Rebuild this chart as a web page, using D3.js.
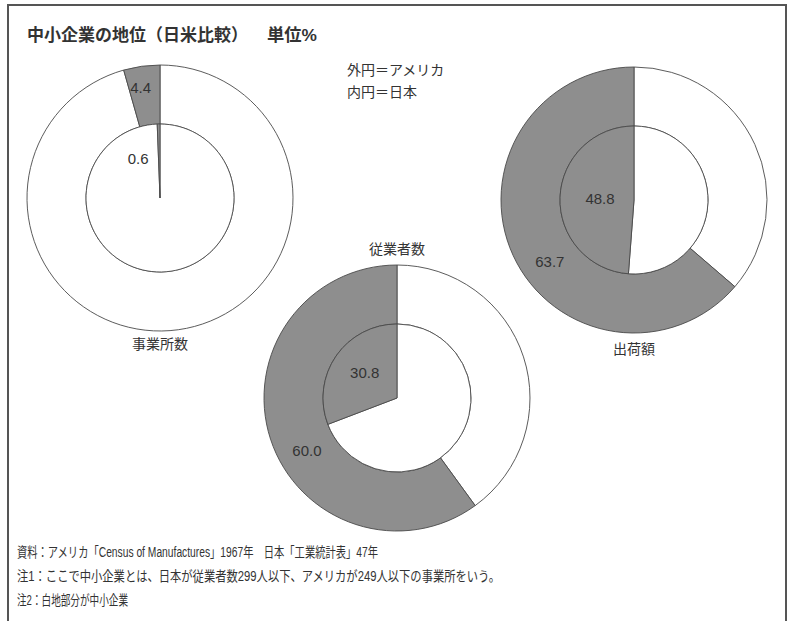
<!DOCTYPE html>
<html>
<head>
<meta charset="utf-8">
<script src="https://cdn.jsdelivr.net/npm/d3@7"></script>
<style>
  html, body { margin: 0; padding: 0; background: #ffffff; }
  svg { display: block; }
  text { font-family: "Liberation Sans", "Noto Sans CJK JP", sans-serif; fill: #333; }
</style>
</head>
<body>
<svg id="chart" width="795" height="621"></svg>
<script>
// Share of large enterprises (grey) vs. small/medium enterprises (white), %
const categories = ["事業所数", "従業者数", "出荷額"];
const usLarge = [4.4, 60.0, 63.7];     // outer ring: USA
const japanLarge = [0.6, 30.8, 48.8];  // inner disc: Japan

const titleText = "中小企業の地位（日米比較）";
const unitText = "単位%";
const legendLines = ["外円＝アメリカ", "内円＝日本"];
const notes = [
  "資料：アメリカ「Census of Manufactures」1967年　日本「工業統計表」47年",
  "注1：ここで中小企業とは、日本が従業者数299人以下、アメリカが249人以下の事業所をいう。",
  "注2：白地部分が中小企業"
];

// Layout
const W = 795, H = 621;
const svg = d3.select("#chart");
const rOuter = 133, rInner = 74;
const centers = [[160, 198], [397, 398], [634, 200]];
// category label: offset above/below each donut
const catLabelDy = [146, -149, 149];
// value label placement in polar form: angle (deg, counter-clockwise from top), radius
const usLabelPolar = [[10, 112], [120, 104], [126, 104]];
const jpLabelPolar = [[29, 45], [52, 41], [88, 34]];

const GREY = "#8e8e8e", EDGE = "#4a4a4a";

// frame
svg.append("path")
  .attr("d", `M8,${H + 2} V5 H786 V${H + 2}`)
  .attr("fill", "none").attr("stroke", "#555").attr("stroke-width", 2);

// title
svg.append("text").attr("x", 27).attr("y", 41)
  .attr("font-size", 17).attr("font-weight", "bold")
  .attr("textLength", 221).attr("lengthAdjust", "spacingAndGlyphs")
  .text(titleText);
svg.append("text").attr("x", 267).attr("y", 41)
  .attr("font-size", 17).attr("font-weight", "bold")
  .attr("textLength", 50).attr("lengthAdjust", "spacingAndGlyphs")
  .text(unitText);

// legend
svg.selectAll("text.legend").data(legendLines).join("text")
  .attr("class", "legend")
  .attr("x", 347).attr("y", (d, i) => 75 + i * 22)
  .attr("font-size", 14)
  .text(d => d);

// pie: white (SME) share clockwise from top, grey share returns to top
const pie = d3.pie().sort(null).value(d => d.v);
const split = large => [{ v: 100 - large, large: false }, { v: large, large: true }];
const outerArc = d3.arc().innerRadius(rInner).outerRadius(rOuter);
const innerArc = d3.arc().innerRadius(0).outerRadius(rInner);
const polar = (deg, r) => {
  const a = deg * Math.PI / 180;
  return [-r * Math.sin(a), -r * Math.cos(a)];
};

categories.forEach((cat, i) => {
  const g = svg.append("g").attr("transform", `translate(${centers[i][0]},${centers[i][1]})`);

  g.selectAll("path.us").data(pie(split(usLarge[i]))).join("path")
    .attr("class", "us")
    .attr("d", outerArc)
    .attr("fill", d => d.data.large ? GREY : "#fff")
    .attr("stroke", EDGE).attr("stroke-width", 0.9);

  g.selectAll("path.jp").data(pie(split(japanLarge[i]))).join("path")
    .attr("class", "jp")
    .attr("d", innerArc)
    .attr("fill", d => d.data.large ? GREY : "#fff")
    .attr("stroke", EDGE).attr("stroke-width", 0.9);

  // value labels
  const pu = polar(usLabelPolar[i][0], usLabelPolar[i][1]);
  g.append("text").attr("x", pu[0]).attr("y", pu[1])
    .attr("text-anchor", "middle").attr("dominant-baseline", "central")
    .attr("font-size", 15).attr("fill", "#3a3a3a")
    .text(usLarge[i].toFixed(1));
  const pj = polar(jpLabelPolar[i][0], jpLabelPolar[i][1]);
  g.append("text").attr("x", pj[0]).attr("y", pj[1])
    .attr("text-anchor", "middle").attr("dominant-baseline", "central")
    .attr("font-size", 15).attr("fill", "#3a3a3a")
    .text(japanLarge[i].toFixed(1));

  // category label
  g.append("text").attr("x", 0).attr("y", catLabelDy[i])
    .attr("text-anchor", "middle").attr("dominant-baseline", "central")
    .attr("font-size", 14)
    .text(cat);
});

// source and notes
const noteWidths = [361, 483, 111];
svg.selectAll("text.note").data(notes).join("text")
  .attr("class", "note")
  .attr("x", 17).attr("y", (d, i) => 557 + i * 24)
  .attr("font-size", 14)
  .attr("textLength", (d, i) => noteWidths[i])
  .attr("lengthAdjust", "spacingAndGlyphs")
  .text(d => d);
</script>
</body>
</html>
